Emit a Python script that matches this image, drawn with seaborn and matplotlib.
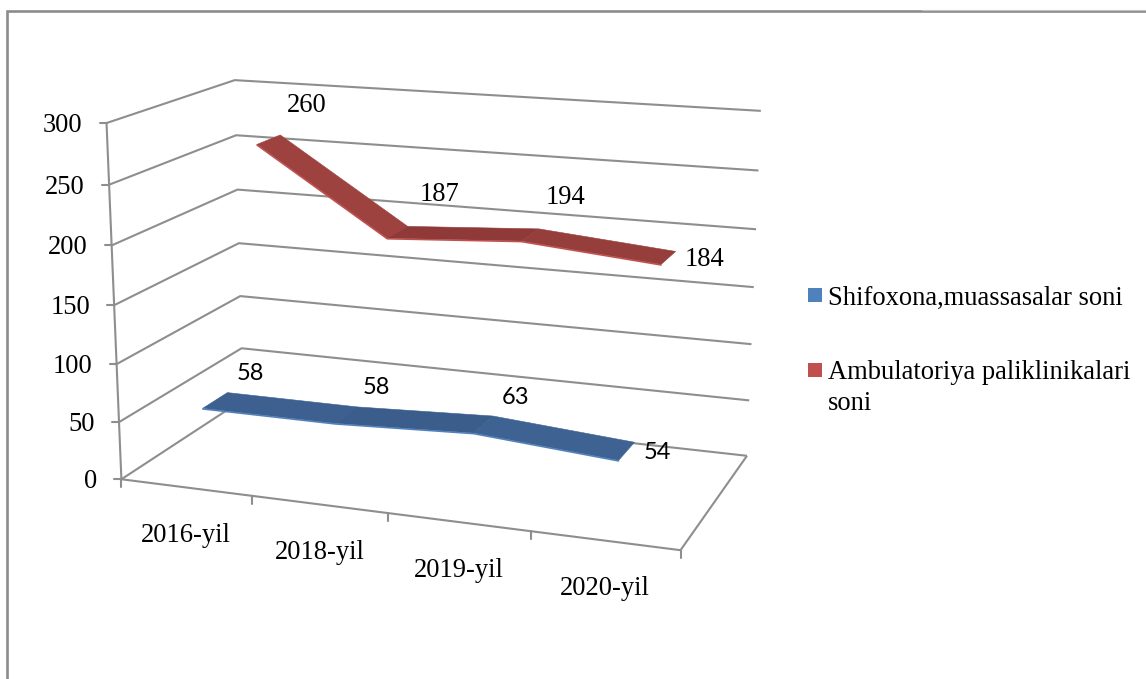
import numpy as np
import pandas as pd
import seaborn as sns
import matplotlib
matplotlib.use("Agg")
import matplotlib.pyplot as plt
from matplotlib.patches import Polygon, Rectangle

# ---------- data ----------
categories = ["2016-yil", "2018-yil", "2019-yil", "2020-yil"]
hospitals = [58, 58, 63, 54]
clinics = [260, 187, 194, 184]
hospitals_name = "Shifoxona,muassasalar soni"
clinics_name = ["Ambulatoriya paliklinikalari", "soni"]
y_ticks = [0, 50, 100, 150, 200, 250, 300]

# ---------- style ----------
W, H = 1146, 679
sns.set_theme(style="white")
plt.rcParams["font.family"] = ["Liberation Serif", "DejaVu Sans"]
GRID = "#8e8e8e"
BLUE, RED = "#4F81BD", "#C0504D"
BLUE_TOPS = ["#3d6090", "#3b5d8b", "#3e6292"]
RED_TOPS = ["#9e4240", "#8f3a38", "#963e3c"]
FS = 19.1
LW = 1.5

# ---------- perspective camera fitted to the plot-box corners (pixels) ----------
# (u along categories 0..1, value, depth 0..1) -> figure pixel
left_front = [(121.7, 479), (119.3, 422.7), (116.5, 364), (114, 305), (111.7, 245), (109, 185), (106.7, 122.7)]
left_back = [(243, 400), (241.7, 347.7), (240, 295.7), (238.5, 242.7), (237.7, 189), (236.5, 136), (234.3, 80.7)]
right_back = [(746.7, 455.7), (749.3, 400.7), (751.7, 344.3), (754, 287.3), (756, 230), (758.3, 170), (761, 110.7)]
corners = []
for k, z in enumerate(y_ticks):
    corners.append((0, z, 0, *left_front[k]))
    corners.append((0, z, 1, *left_back[k]))
    corners.append((1, z, 1, *right_back[k]))
corners.append((1, 0, 0, 680.7, 549.3))
corners += [(0.25, 0, 0, 252, 497), (0.5, 0, 0, 387.7, 514), (0.75, 0, 0, 531, 530.5)]

A, b = [], []
for u, z, d, px, py in corners:
    Z = z / 300
    A.append([u, Z, d, 1, 0, 0, 0, 0, -px * u, -px * Z, -px * d])
    A.append([0, 0, 0, 0, u, Z, d, 1, -py * u, -py * Z, -py * d])
    b += [px, py]
cam = np.linalg.lstsq(np.array(A, float), np.array(b, float), rcond=None)[0]
cam = np.append(cam, 1.0).reshape(3, 4)


def project(u, z, d):
    v = cam @ np.array([u, z / 300, d, 1.0])
    return v[0] / v[2], v[1] / v[2]


# ---------- canvas ----------
fig = plt.figure(figsize=(W / 100, H / 100), dpi=100, facecolor="white")
ax = fig.add_axes([0, 0, 1, 1])
ax.set_xlim(0, W)
ax.set_ylim(H, 0)
ax.axis("off")

# outer chart frame
ax.plot([7, 7, W], [H, 11, 11], color="#8c8c8c", lw=1.9, solid_joinstyle="miter", zorder=1)
ax.plot([922, W], [9.5, 9.5], color="#c4c4c4", lw=0.8, zorder=1)


def line3d(pts, **kw):
    xy = np.array([project(*p) for p in pts])
    ax.plot(xy[:, 0], xy[:, 1], color=GRID, lw=LW, zorder=2, solid_capstyle="butt", **kw)


# walls and gridlines
for z in y_ticks:
    line3d([(0, z, 0), (0, z, 1), (1, z, 1)])
    x0, y0 = project(0, z, 0)
    ax.plot([x0 - 7, x0], [y0, y0], color=GRID, lw=LW, zorder=2)
    ax.text(x0 - 24, y0 + 2.5, str(z), ha="right", va="center", fontsize=FS, color="black")

line3d([(0, 0, 0), (0, 300, 0)])
line3d([(0, 0, 0), (1, 0, 0), (1, 0, 1)])
n = len(categories)
for i in range(n + 1):
    x0, y0 = project(i / n, 0, 0)
    ax.plot([x0, x0], [y0, y0 + 8], color=GRID, lw=LW, zorder=2)

# category labels
for i, c in enumerate(categories):
    x0, y0 = project((i + 0.5) / n, 0, 0)
    ax.text(x0, y0 + 48, c, ha="center", va="center", fontsize=FS, color="black")


# ribbons
def ribbon(values, d_front, d_back, tops, zo):
    us = [(i + 0.5) / n for i in range(n)]
    front = [project(u, v, d_front) for u, v in zip(us, values)]
    back = [project(u, v, d_back) for u, v in zip(us, values)]
    for i in range(n - 1):
        poly = [front[i], front[i + 1], back[i + 1], back[i]]
        ax.add_patch(Polygon(poly, closed=True, facecolor=tops[i], edgecolor=tops[i], lw=0.4, zorder=zo))
    return front


front_b = ribbon(hospitals, 0.147, 0.347, BLUE_TOPS, 4)
front_r = ribbon(clinics, 0.645, 0.85, RED_TOPS, 3)

edges = pd.DataFrame(
    [{"series": "hospitals", "px": x, "py": y + 0.6} for x, y in front_b]
    + [{"series": "clinics", "px": x, "py": y + 0.6} for x, y in front_r]
)
sns.lineplot(
    data=edges, x="px", y="py", hue="series", palette={"hospitals": BLUE, "clinics": RED},
    sort=False, estimator=None, lw=1.1, legend=False, ax=ax, zorder=5,
)
ax.set_xlim(0, W)
ax.set_ylim(H, 0)
ax.axis("off")

# data labels: pixel offsets from each point's ribbon centre
red_dx, red_dy = [38, 42, 35, 36], [-34, -38, -37, 2]
blue_dx, blue_dy = [35, 30, 32, 30], [-27, -27, -27, 2]
for i in range(n):
    u = (i + 0.5) / n
    x, y = project(u, clinics[i], 0.75)
    ax.text(x + red_dx[i], y + red_dy[i], str(clinics[i]),
            ha="center", va="center", fontsize=FS, color="black", zorder=6)
    x, y = project(u, hospitals[i], 0.25)
    ax.text(x + blue_dx[i], y + blue_dy[i], str(hospitals[i]),
            ha="center", va="center", fontsize=17, family="Lato", color="black", zorder=6)

# legend
ax.add_patch(Rectangle((808, 288), 14, 14, facecolor=BLUE, edgecolor="none"))
ax.add_patch(Rectangle((808, 363), 14, 14, facecolor=RED, edgecolor="none"))
ax.text(828, 305, hospitals_name, ha="left", va="baseline", fontsize=FS, color="black")
ax.text(828, 379, clinics_name[0], ha="left", va="baseline", fontsize=FS, color="black")
ax.text(828, 410, clinics_name[1], ha="left", va="baseline", fontsize=FS, color="black")

fig.savefig("out.png", dpi=100, facecolor="white")
